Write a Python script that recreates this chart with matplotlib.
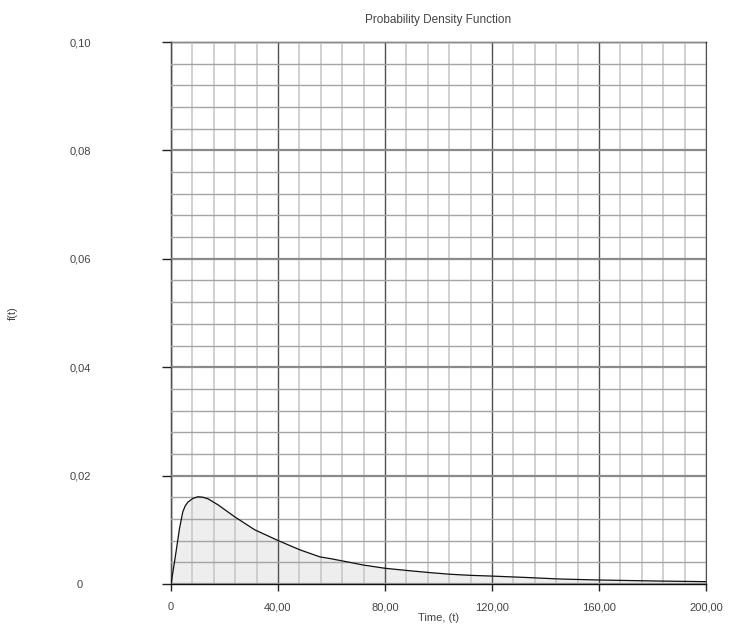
import numpy as np
import matplotlib
matplotlib.use("Agg")
import matplotlib.pyplot as plt
from matplotlib.ticker import MultipleLocator, FuncFormatter

plt.rcParams["font.family"] = ["Liberation Sans Narrow", "Liberation Sans", "DejaVu Sans"]

# 读图得到的曲线点 (t, f(t))
t_vals = [0, 1.0, 1.9, 3.2, 4.4, 5.3, 6.3, 8.2, 10.1, 12.0, 13.9, 17.6, 23.8,
          31.3, 40.1, 48.2, 55.7, 59.4, 65.7, 71.9, 80.0, 88.1, 96.8, 104.3,
          111.8, 120.5, 133.0, 145.4, 159.7, 181.6, 200.0]
f_vals = [0, 0.0031, 0.0060, 0.0103, 0.0133, 0.0144, 0.0151, 0.0158, 0.0161,
          0.0160, 0.0157, 0.0146, 0.0124, 0.0100, 0.0080, 0.0063, 0.0050,
          0.0047, 0.0041, 0.0035, 0.0029, 0.0025, 0.0021, 0.0018, 0.0016,
          0.00145, 0.0012, 0.00092, 0.00074, 0.00055, 0.00043]

x_major = 40
x_minor = 8
y_major = 0.02
y_minor = 0.004

fig = plt.figure(figsize=(7.34, 6.28), dpi=100)
ax = fig.add_axes([171 / 734, 44 / 628, 535 / 734, 542 / 628])

ax.fill_between(t_vals, f_vals, 0, color="#eeeeee", zorder=1)
ax.plot(t_vals, f_vals, color="#111111", linewidth=0.9, zorder=4)

ax.set_xlim(0, 200)
ax.set_ylim(0, 0.10)

ax.xaxis.set_major_locator(MultipleLocator(x_major))
ax.xaxis.set_minor_locator(MultipleLocator(x_minor))
ax.yaxis.set_major_locator(MultipleLocator(y_major))
ax.yaxis.set_minor_locator(MultipleLocator(y_minor))

# 网格：主线深、次线浅
ax.grid(which="minor", axis="x", color="#c8c8c8", linewidth=1.2, zorder=2)
ax.grid(which="minor", axis="y", color="#a4a4a4", linewidth=1.0, zorder=2)
ax.grid(which="major", axis="x", color="#505050", linewidth=1.0, zorder=3)
ax.grid(which="major", axis="y", color="#8a8a8a", linewidth=1.6, zorder=3)
ax.set_axisbelow(False)


def fmt_x(v, pos):
    if v == 0:
        return "0"
    return f"{v:.2f}".replace(".", ",")


def fmt_y(v, pos):
    if abs(v) < 1e-12:
        return "0"
    return f"{v:.2f}".replace(".", ",")


ax.xaxis.set_major_formatter(FuncFormatter(fmt_x))
ax.yaxis.set_major_formatter(FuncFormatter(fmt_y))

ax.tick_params(axis="y", which="major", direction="out", length=6.5,
               width=1, color="#222222", labelsize=8, labelcolor="#444444",
               pad=59)
ax.tick_params(axis="x", which="major", direction="out", length=5,
               width=1, color="#222222", labelsize=8, labelcolor="#444444",
               pad=8)
ax.tick_params(which="minor", length=0)
for lab in ax.get_yticklabels():
    lab.set_horizontalalignment("center")

for side in ["top", "left", "bottom"]:
    ax.spines[side].set_color("#111111")
    ax.spines[side].set_linewidth(1.0)
ax.spines["right"].set_color("#505050")

ax.set_title("Probability Density Function", fontsize=8.5, color="#444444",
             pad=14)
ax.set_xlabel("Time, (t)", fontsize=8, color="#444444")
ax.xaxis.set_label_coords(0.5, -0.054)
ax.set_ylabel("f(t)", fontsize=8, color="#444444")
ax.yaxis.set_label_coords(-0.286, 0.5)

fig.savefig("out.png", dpi=100)
